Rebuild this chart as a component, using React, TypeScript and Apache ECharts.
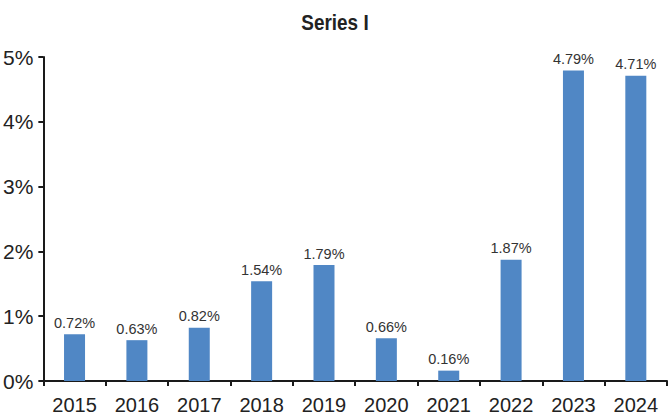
import React, { useEffect, useRef } from "react";
import * as echarts from "echarts";

const categories = ["2015", "2016", "2017", "2018", "2019", "2020", "2021", "2022", "2023", "2024"];
const values = [0.72, 0.63, 0.82, 1.54, 1.79, 0.66, 0.16, 1.87, 4.79, 4.71];
const yTicks = [0, 1, 2, 3, 4, 5];
const titleText = "Series I";

export default function App() {
  const ref = useRef<HTMLDivElement>(null);
  useEffect(() => {
    if (!ref.current) return;
    const chart = echarts.init(ref.current, null, { renderer: "svg" });
    chart.setOption({
      animation: false,
      backgroundColor: "#ffffff",
      graphic: [
        {
          type: "text",
          x: 335,
          y: 22,
          scaleX: 0.86,
          style: {
            text: titleText,
            fontFamily: "Liberation Sans, Arial",
            fontWeight: "bold",
            fontSize: 22,
            fill: "#222",
            align: "center",
            verticalAlign: "middle",
          },
        },
      ],
      grid: { left: 43, right: 1, top: 57, bottom: 36, containLabel: false },
      xAxis: {
        type: "category",
        data: categories,
        axisLine: { lineStyle: { color: "#1a1a1a", width: 2 } },
        axisTick: { show: true, alignWithLabel: false, length: 5, lineStyle: { color: "#1a1a1a", width: 2 } },
        axisLabel: {
          fontFamily: "Liberation Sans, Arial",
          fontSize: 20,
          color: "#222",
          margin: 14,
          interval: 0,
        },
      },
      yAxis: {
        type: "value",
        min: yTicks[0],
        max: yTicks[yTicks.length - 1],
        interval: 1,
        axisLine: { show: true, lineStyle: { color: "#1a1a1a", width: 2 } },
        axisTick: { show: true, length: 5, lineStyle: { color: "#1a1a1a", width: 2 } },
        splitLine: { show: false },
        axisLabel: {
          fontFamily: "Liberation Sans, Arial",
          fontSize: 21,
          color: "#222",
          margin: 10,
          formatter: (v: number) => v + "%",
        },
      },
      series: [
        {
          type: "bar",
          data: values,
          barWidth: 21,
          itemStyle: { color: "#5087C5" },
          label: {
            show: true,
            position: "top",
            distance: 4,
            fontFamily: "Liberation Sans, Arial",
            fontSize: 14.5,
            color: "#333",
            formatter: (p: any) => p.value.toFixed(2) + "%",
          },
        },
      ],
    });
    return () => chart.dispose();
  }, []);
  return <div ref={ref} style={{ width: 668, height: 417, position: "absolute", left: 0, top: 0 }} />;
}
